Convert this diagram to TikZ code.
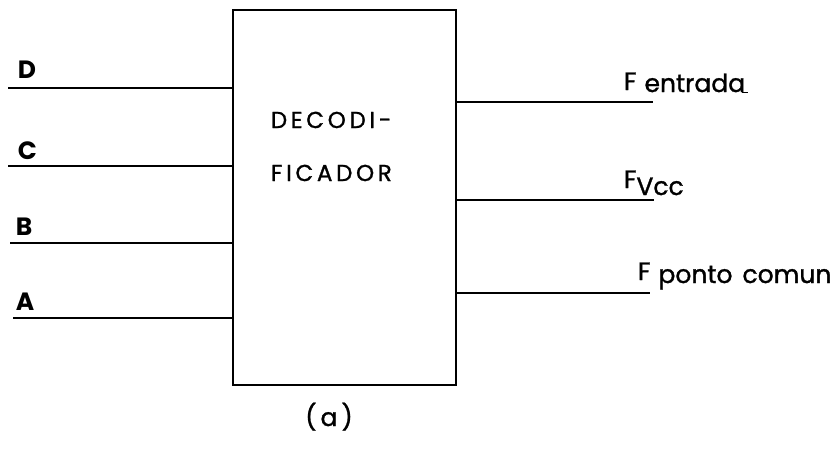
\documentclass[tikz,border=0pt]{standalone}
\usepackage{fontspec}
\setmainfont{Poppins}
\newfontfamily\spaced{Poppins}[LetterSpace=16,FakeBold=1.2]
\newfontfamily\medfont{Poppins}[FakeBold=1.2]
\begin{document}
\begin{tikzpicture}[x=1pt,y=-1pt,line width=1.8pt,
  wire/.style={line width=1.8pt},
  inlbl/.style={anchor=base west,inner sep=0,font=\fontsize{25}{28}\selectfont\bfseries},
  outlbl/.style={anchor=base west,inner sep=0,font=\fontsize{25}{28}\selectfont\medfont},
  boxtxt/.style={anchor=base west,inner sep=0,font=\fontsize{23}{26}\selectfont\spaced}]
\useasboundingbox[fill=white] (0,0) rectangle (833,450);
\node[draw,line width=2pt,minimum width=223pt,minimum height=375pt,anchor=north west,inner sep=0] (dec) at (232,9) {};
% inputs
\coordinate (d0) at (8,88);
\coordinate (c0) at (8,166);
\coordinate (b0) at (10,243);
\coordinate (a0) at (13,318);
\draw[wire] (d0) -- (d0 -| dec.west);
\draw[wire] (c0) -- (c0 -| dec.west);
\draw[wire] (b0) -- (b0 -| dec.west);
\draw[wire] (a0) -- (a0 -| dec.west);
\node[inlbl] (ld) at (17,78) {D};
\node[inlbl] (lc) at (17,159) {C};
\node[inlbl] (lb) at (15,235) {B};
\node[inlbl] (la) at (15,310) {A};
% outputs
\coordinate (o1) at (653,102);
\coordinate (o2) at (654,200);
\coordinate (o3) at (650,293);
\draw[wire] (o1 -| dec.east) -- (o1);
\draw[wire] (o2 -| dec.east) -- (o2);
\draw[wire] (o3 -| dec.east) -- (o3);
\node[outlbl] (f1) at (623,90) {F\kern8pt\raisebox{-2pt}{entrada}\kern-3pt\raisebox{-3pt}{\rule{6pt}{1.5pt}}};
\node[outlbl] (f2) at (623,188) {F\raisebox{-7pt}{Vcc}};
\node[outlbl] (f3) at (637,280) {F\kern8pt\raisebox{-3pt}{ponto\hspace{10pt}comun}};
% box text
\node[boxtxt] (t1) at (270,128) {DECODI-};
\node[boxtxt] (t2) at (270,181) {FICADOR};
\node[anchor=base,inner sep=0,font=\fontsize{25}{28}\selectfont\spaced] (cap) at (329,426) {(a)};
\end{tikzpicture}
\end{document}
